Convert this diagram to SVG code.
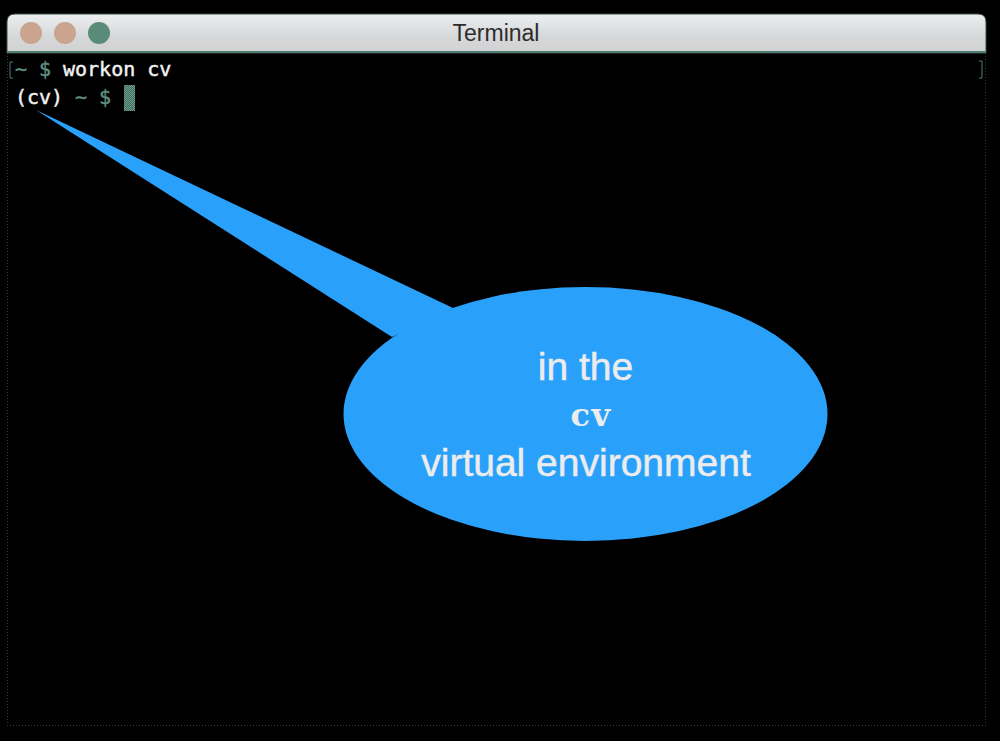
<svg xmlns="http://www.w3.org/2000/svg" width="1000" height="741" viewBox="0 0 1000 741">
<defs>
<linearGradient id="bar" x1="0" y1="0" x2="0" y2="1"><stop offset="0" stop-color="#eceeef"/><stop offset="0.6" stop-color="#d6d7d8"/><stop offset="1" stop-color="#d2d2d3"/></linearGradient>
<pattern id="dither" width="2" height="2" patternUnits="userSpaceOnUse"><rect width="2" height="2" fill="#3f6b60"/><rect width="1" height="1" fill="#6d9c8e"/><rect x="1" y="1" width="1" height="1" fill="#6d9c8e"/></pattern>
</defs>
<style>
.term{font-family:"DejaVu Sans Mono","Liberation Mono",monospace;font-size:20px;stroke-width:.45px}
.w{fill:#f2f2f2;stroke:#f2f2f2}.g{fill:#5e8f80;stroke:#5e8f80}
.call{font-family:"Liberation Sans",Arial,sans-serif;font-size:39px;fill:#ececec;stroke:#ececec;stroke-width:.5px;text-anchor:middle}
.frame{fill:none;stroke:#3a3a3a;stroke-width:1;stroke-dasharray:1 2}
</style>
<rect width="1000" height="741" fill="#000"/>
<g id="window-frame">
<path class="frame" d="M7.500 53V725.500H985.500V53"/>
</g>
<g id="title-bar">
<path d="M7 53V22Q7 14 15 14H978Q986 14 986 22V53Z" fill="url(#bar)" stroke="#3c4a4c" stroke-width="1"/>
<rect x="7" y="51" width="979" height="2" fill="#4f7f72"/>
<text x="496" y="41" font-family="'Liberation Sans',Arial,sans-serif" font-size="23" fill="#2c2c2c" text-anchor="middle">Terminal</text>
</g>
<g id="window-buttons">
<circle cx="31" cy="33" r="11" fill="#c9a48f"/>
<circle cx="65" cy="33" r="11" fill="#c9a48f"/>
<circle cx="99" cy="33" r="11" fill="#5a8b79"/>
</g>
<g id="terminal-text">
<path d="M13 62H10V78H13M979 61H982V78H979" fill="none" stroke="#4f7f78" stroke-width="1"/>
<text x="15" y="76" class="term g" xml:space="preserve">~ $</text>
<text x="63" y="76" class="term w" xml:space="preserve">workon cv</text>
<text x="15" y="104" class="term w">(cv)</text>
<text x="75" y="104" class="term g" xml:space="preserve">~ $</text>
<rect x="124" y="85" width="11" height="26" fill="url(#dither)"/>
</g>
<g id="callout">
<path d="M36 110L453 308L392 337Z" fill="#29a1fb"/>
<ellipse cx="585.500" cy="414" rx="242" ry="127" fill="#29a1fb"/>
<text x="585.500" y="380" class="call">in the</text>
<text x="591" y="426" font-family="'DejaVu Serif',serif" font-size="32" font-weight="700" letter-spacing="1.500" fill="#ececec" text-anchor="middle">cv</text>
<text x="586" y="476" class="call">virtual environment</text>
</g>
</svg>
